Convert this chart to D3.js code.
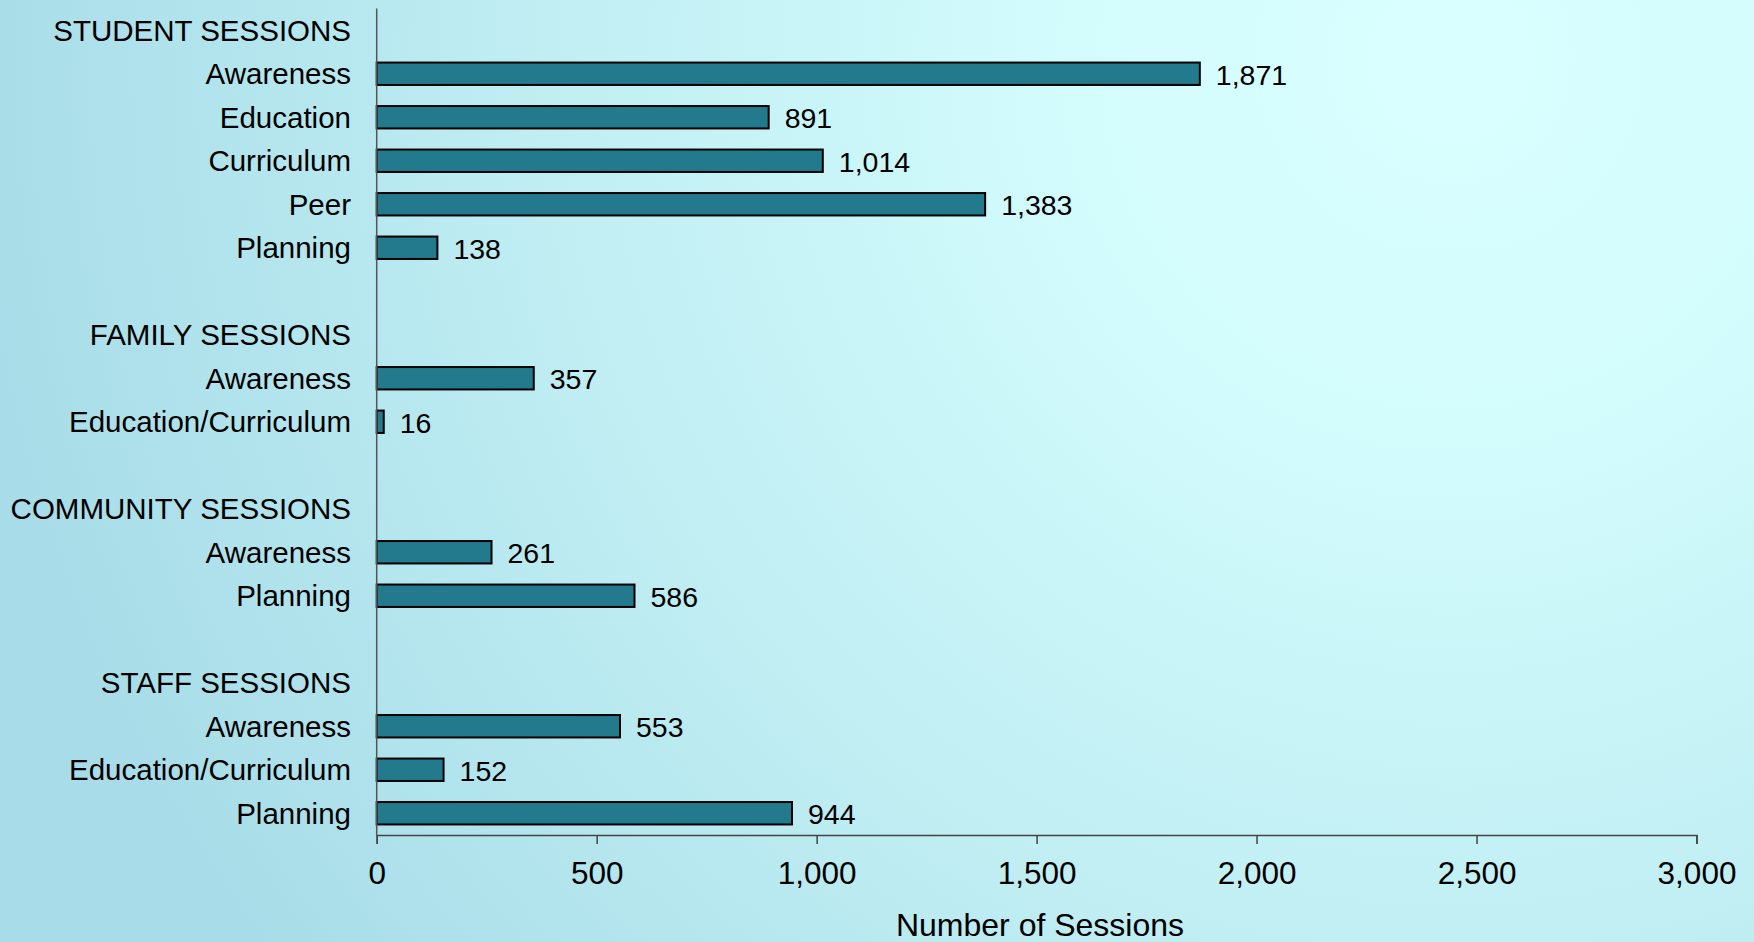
<!DOCTYPE html>
<html>
<head>
<meta charset="utf-8">
<script src="https://cdn.jsdelivr.net/npm/d3@7"></script>
<style>
  html, body { margin: 0; padding: 0; overflow: hidden; }
  svg { display: block; font-family: "Liberation Sans", Arial, sans-serif; }
</style>
</head>
<body>
<svg id="chart" width="1754" height="942"></svg>
<script>
// Session counts by audience and session type
const groupTitles = ["STUDENT SESSIONS", "FAMILY SESSIONS", "COMMUNITY SESSIONS", "STAFF SESSIONS"];

const studentTypes  = ["Awareness", "Education", "Curriculum", "Peer", "Planning"];
const studentValues = [1871, 891, 1014, 1383, 138];

const familyTypes  = ["Awareness", "Education/Curriculum"];
const familyValues = [357, 16];

const communityTypes  = ["Awareness", "Planning"];
const communityValues = [261, 586];

const staffTypes  = ["Awareness", "Education/Curriculum", "Planning"];
const staffValues = [553, 152, 944];

const xTickValues = [0, 500, 1000, 1500, 2000, 2500, 3000];
const xAxisTitle = "Number of Sessions";

// Build one row per line of the chart: a header row per group, its bars,
// and a blank spacer between groups.
const groupTypes  = [studentTypes, familyTypes, communityTypes, staffTypes];
const groupValues = [studentValues, familyValues, communityValues, staffValues];
const rows = [];
groupTitles.forEach((title, g) => {
  if (g > 0) rows.push({ id: "gap" + g, kind: "gap", label: "" });
  rows.push({ id: "head" + g, kind: "header", label: title });
  groupTypes[g].forEach((t, i) => {
    rows.push({ id: g + "-" + i, kind: "bar", label: t, value: groupValues[g][i] });
  });
});

const W = 1754, H = 942;
const svg = d3.select("#chart");

// Background wash: light cyan in the upper right fading to a deeper blue at the left
const defs = svg.append("defs");
const bg = defs.append("radialGradient")
  .attr("id", "bgGrad")
  .attr("gradientUnits", "userSpaceOnUse")
  .attr("cx", 1450).attr("cy", 60).attr("r", 1500);
bg.append("stop").attr("offset", "0%").attr("stop-color", "#daffff");
bg.append("stop").attr("offset", "25%").attr("stop-color", "#d3fcfd");
bg.append("stop").attr("offset", "60%").attr("stop-color", "#c0eef3");
bg.append("stop").attr("offset", "100%").attr("stop-color", "#a7dce8");
svg.append("rect").attr("width", W).attr("height", H).attr("fill", "url(#bgGrad)");

const plotLeft = 376.7, plotRight = 1696.5;
const plotTop = 8.5, plotBottom = 835;

const x = d3.scaleLinear().domain([0, 3000]).range([plotLeft, plotRight]);
const y = d3.scaleBand().domain(rows.map(r => r.id)).range([plotTop, plotBottom]).padding(0);
const barH = y.bandwidth() * 0.515;

// Bars
const barRows = rows.filter(r => r.kind === "bar");
svg.append("g").selectAll("rect")
  .data(barRows)
  .join("rect")
  .attr("x", x(0))
  .attr("y", d => y(d.id) + (y.bandwidth() - barH) / 2)
  .attr("width", d => x(d.value) - x(0))
  .attr("height", barH)
  .attr("fill", "#227a8c")
  .attr("stroke", "#000")
  .attr("stroke-width", 2);

// Value labels
const fmt = d3.format(",");
svg.append("g").selectAll("text")
  .data(barRows)
  .join("text")
  .attr("x", d => x(d.value) + 16)
  .attr("y", d => y(d.id) + y.bandwidth() / 2 + 1)
  .attr("dy", "0.35em")
  .attr("font-size", 28.5)
  .attr("fill", "#000")
  .text(d => fmt(d.value));

// Row labels (group headers and session types), right-aligned beside the axis
svg.append("g").selectAll("text")
  .data(rows.filter(r => r.kind !== "gap"))
  .join("text")
  .attr("x", 351)
  .attr("y", d => y(d.id) + y.bandwidth() / 2)
  .attr("dy", "0.35em")
  .attr("text-anchor", "end")
  .attr("font-size", 29.5)
  .attr("fill", "#000")
  .text(d => d.label);

// Value axis
const xAxis = d3.axisBottom(x)
  .tickValues(xTickValues)
  .tickFormat(fmt)
  .tickSizeInner(9)
  .tickSizeOuter(9)
  .tickPadding(18);
const gx = svg.append("g")
  .attr("transform", `translate(0,${plotBottom})`)
  .call(xAxis);
gx.select(".domain").attr("stroke", "#444").attr("stroke-width", 1.5);
gx.selectAll(".tick line").attr("stroke", "#444").attr("stroke-width", 1.5);
gx.selectAll(".tick text")
  .attr("font-size", 31.5)
  .attr("font-family", "\"Liberation Sans\", Arial, sans-serif")
  .attr("fill", "#000");

// Category axis line
svg.append("line")
  .attr("x1", x(0)).attr("x2", x(0))
  .attr("y1", plotTop).attr("y2", plotBottom)
  .attr("stroke", "#555")
  .attr("stroke-width", 1.5);

// Axis title
svg.append("text")
  .attr("x", 1040)
  .attr("y", 936)
  .attr("text-anchor", "middle")
  .attr("font-size", 32)
  .attr("fill", "#000")
  .text(xAxisTitle);
</script>
</body>
</html>
